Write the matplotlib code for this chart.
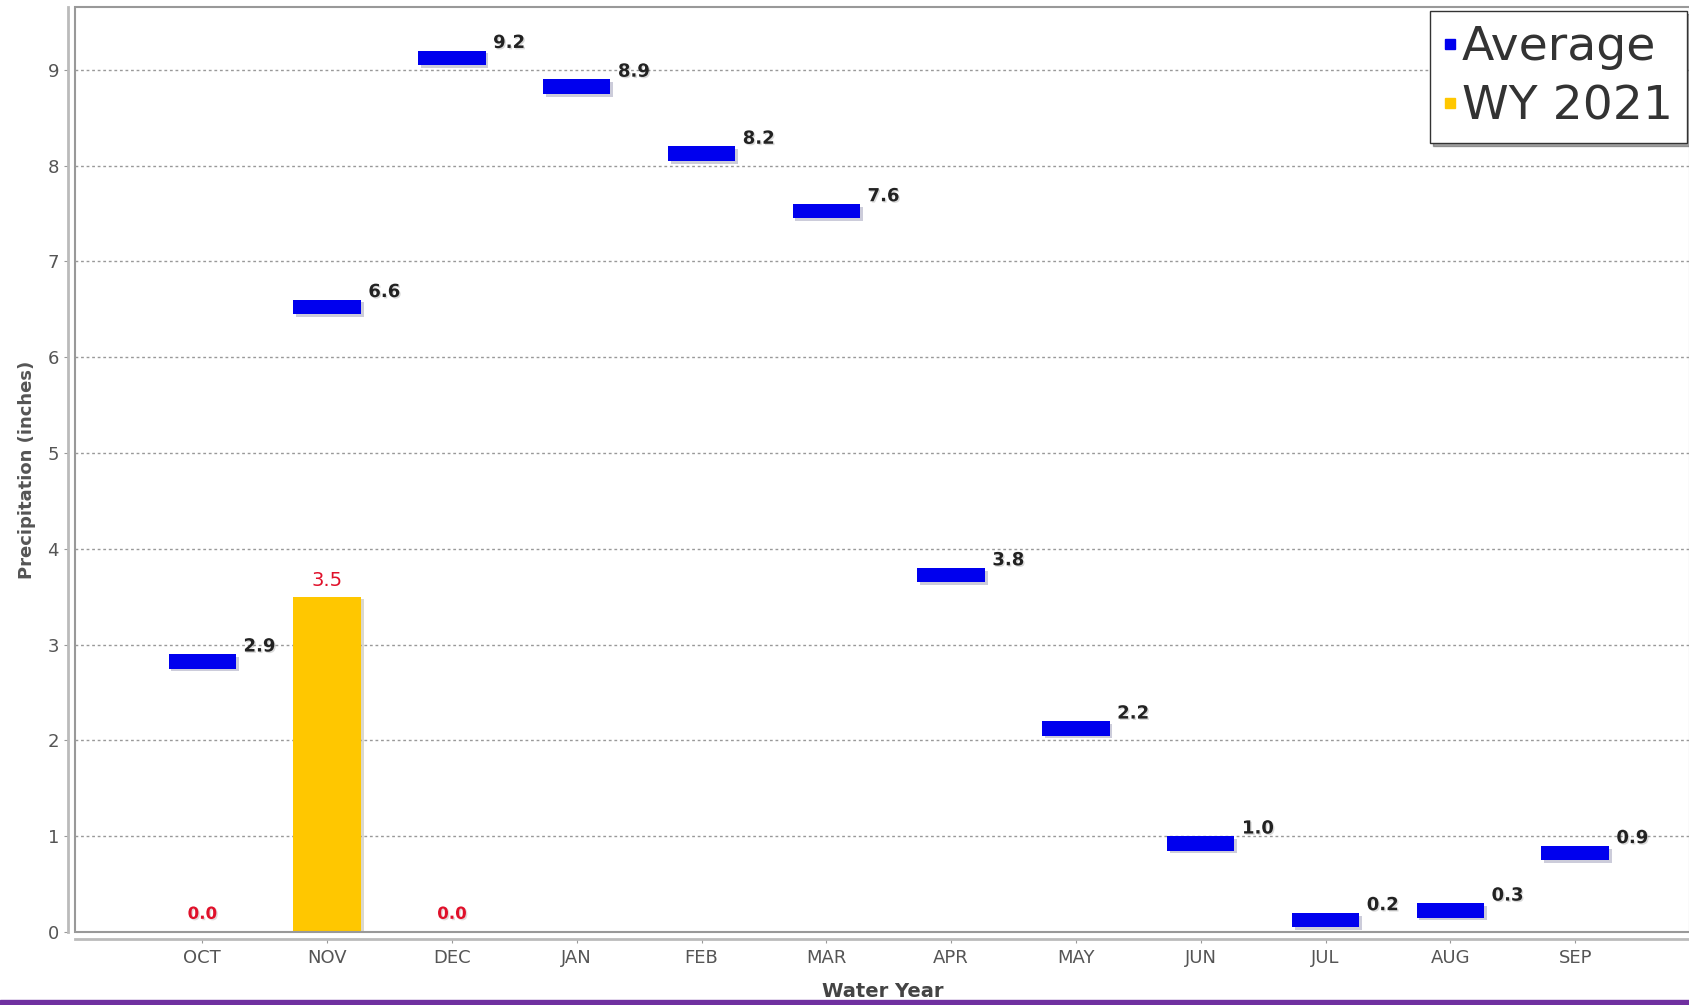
import numpy as np
import matplotlib
matplotlib.use('Agg')
import matplotlib.pyplot as plt
import matplotlib.patheffects as pe
from matplotlib.patches import Rectangle
from matplotlib.lines import Line2D

# данные
months = ['OCT', 'NOV', 'DEC', 'JAN', 'FEB', 'MAR', 'APR', 'MAY', 'JUN', 'JUL', 'AUG', 'SEP']
average = [2.9, 6.6, 9.2, 8.9, 8.2, 7.6, 3.8, 2.2, 1.0, 0.2, 0.3, 0.9]
wy2021 = [0.0, 3.5, 0.0]

blue = '#0000EE'
gold = '#FFC700'
red = '#E0102A'
gray = '#555555'

fig = plt.figure(figsize=(16.9, 10.05), dpi=100)
ax = fig.add_axes([75/1690, 73/1005, 1 - 75/1690, (997.5 - 73)/1005])

x = np.arange(len(months))
shadow = [pe.SimplePatchShadow(offset=(2, -2), alpha=0.2), pe.Normal()]
tshadow = [pe.withSimplePatchShadow(offset=(1, -1), alpha=0.15)]

# WY 2021 столбики
xw = x[:len(wy2021)]
bars = ax.bar(xw, wy2021, width=0.54, color=gold, zorder=3)
for b in bars:
    b.set_path_effects(shadow)

# средние - короткие горизонтальные полоски
h = 0.15
avg = ax.bar(x, [h] * len(x), bottom=np.array(average) - h, width=0.54, color=blue, zorder=4)
for b in avg:
    b.set_path_effects(shadow)

for i, v in enumerate(average):
    ax.text(i + 0.33, v + 0.08, f'{v:.1f}', ha='left', va='center', fontsize=13,
            fontweight='bold', color='#222222', zorder=5, path_effects=tshadow)

for i, v in enumerate(wy2021):
    if v == 0:
        ax.text(i, 0.19, f'{v:.1f}', ha='center', va='center', fontsize=12,
                fontweight='bold', color=red, zorder=5, path_effects=tshadow)
    else:
        ax.text(i, v + 0.17, f'{v:.1f}', ha='center', va='center', fontsize=14,
                color=red, zorder=5)

ax.set_xlim(-1.02, 11.92)
ax.set_ylim(0, 9.65)
ax.set_yticks(range(0, 10))
ax.set_xticks(x)
ax.set_xticklabels(months)
ax.tick_params(axis='both', colors='#999999', labelcolor=gray, labelsize=13, length=3)
ax.tick_params(axis='x', pad=4)
ax.grid(axis='y', linestyle=(0, (2, 2)), color='#999999', linewidth=1, zorder=0)

for s in ['top', 'right']:
    ax.spines[s].set_visible(False)
ax.spines['left'].set_position(('outward', 5))
ax.spines['bottom'].set_position(('outward', 5))
ax.spines['left'].set_color('#BBBBBB')
ax.spines['bottom'].set_color('#BBBBBB')
ax.spines['left'].set_linewidth(2)
ax.spines['bottom'].set_linewidth(2)
ax.add_patch(Rectangle((0, 0), 1, 1, transform=ax.transAxes, fill=False,
                       edgecolor='#999999', linewidth=1.5, zorder=6, clip_on=False))

ax.set_ylabel('Precipitation (inches)', fontsize=13, fontweight='bold', color=gray, labelpad=8)
ax.set_xlabel('Water Year', fontsize=14, fontweight='bold', color='#444444', labelpad=11)

handles = [Line2D([], [], marker='s', linestyle='none', markersize=7, color=blue, label='Average'),
           Line2D([], [], marker='s', linestyle='none', markersize=7, color=gold, label='WY 2021')]
leg = fig.legend(handles=handles, loc='upper right', bbox_to_anchor=(1687/1690, 1 - 11/1005),
                 borderaxespad=0, fontsize=34, handlelength=0.25, handletextpad=0.12,
                 labelspacing=0.3, borderpad=0.3, fancybox=False,
                 shadow=True, edgecolor='#333333', framealpha=1)
for t in leg.get_texts():
    t.set_color('#333333')

# фиолетовая полоса снизу
fig.patches.append(Rectangle((0, 0), 1, 5/1005, transform=fig.transFigure,
                             color='#7030A0', zorder=10))

fig.savefig('out.png', dpi=100)
